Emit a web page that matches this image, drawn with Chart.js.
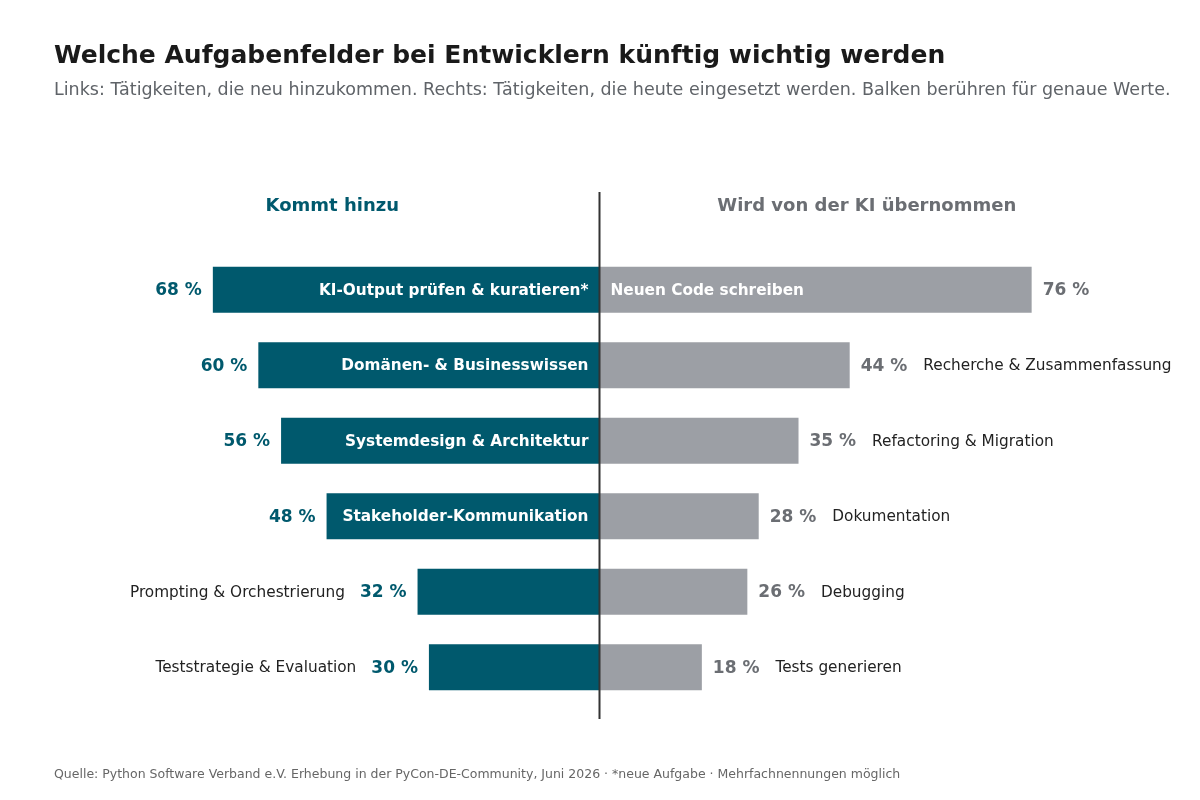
<!DOCTYPE html>
<html lang="de">
<head>
<meta charset="utf-8">
<title>Aufgabenfelder Entwickler</title>
<script src="https://cdn.jsdelivr.net/npm/chart.js@4.4.1/dist/chart.umd.min.js"></script>
<style>
    html, body { margin: 0; padding: 0; background: #ffffff; }
    #wrap { width: 1200px; height: 800px; position: relative; }
</style>
</head>
<body>
<div id="wrap"><canvas id="divergingChart"></canvas></div>
<script>
const leftLabels = ['KI-Output prüfen & kuratieren*', 'Domänen- & Businesswissen', 'Systemdesign & Architektur',
    'Stakeholder-Kommunikation', 'Prompting & Orchestrierung', 'Teststrategie & Evaluation'];
const leftValues = [68, 60, 56, 48, 32, 30];

const rightLabels = ['Neuen Code schreiben', 'Recherche & Zusammenfassung', 'Refactoring & Migration',
    'Dokumentation', 'Debugging', 'Tests generieren'];
const rightValues = [76, 44, 35, 28, 26, 18];

const leftHeader = 'Kommt hinzu';
const rightHeader = 'Wird von der KI übernommen';

const titleText = 'Welche Aufgabenfelder bei Entwicklern künftig wichtig werden';
const subtitleText = 'Links: Tätigkeiten, die neu hinzukommen. Rechts: Tätigkeiten, die heute eingesetzt werden. Balken berühren für genaue Werte.';
const footerText = 'Quelle: Python Software Verband e.V. Erhebung in der PyCon-DE-Community, Juni 2026 · *neue Aufgabe · Mehrfachnennungen möglich';

const TEAL = '#00596d';
const GREY_BAR = '#9c9fa5';
const GREY_TEXT = '#6b6e73';
const FONT = '"DejaVu Sans", Verdana, sans-serif';
const INSIDE_MIN = 45;   // bars with at least this share get their name inside


// draws the headers, center line, bar labels and the texts around the chart
const decorPlugin = {
    id: 'decor',
    afterDatasetsDraw(chart) {
        const ctx = chart.ctx;
        const area = chart.chartArea;
        const xScale = chart.scales.x;
        const zeroX = xScale.getPixelForValue(0);

        ctx.save();
        ctx.textBaseline = 'middle';

        chart.data.datasets.forEach((ds, di) => {
            const meta = chart.getDatasetMeta(di);
            const isLeft = di === 0;
            const names = isLeft ? leftLabels : rightLabels;
            const values = isLeft ? leftValues : rightValues;

            meta.data.forEach((bar, i) => {
                const valueText = values[i] + ' %';
                const inside = values[i] >= INSIDE_MIN;
                const y = bar.y + 1;

                ctx.font = 'bold 17px ' + FONT;
                const valueWidth = ctx.measureText(valueText).width;

                if (isLeft) {
                    ctx.fillStyle = TEAL;
                    ctx.textAlign = 'right';
                    ctx.fillText(valueText, bar.x - 11, y);
                    if (inside) {
                        ctx.font = 'bold 15.3px ' + FONT;
                        ctx.fillStyle = '#ffffff';
                        ctx.fillText(names[i], bar.base - 11, y);
                    } else {
                        ctx.font = '15.3px ' + FONT;
                        ctx.fillStyle = '#222222';
                        ctx.fillText(names[i], bar.x - 11 - valueWidth - 15, y);
                    }
                } else {
                    ctx.fillStyle = GREY_TEXT;
                    ctx.textAlign = 'left';
                    ctx.fillText(valueText, bar.x + 11, y);
                    if (inside) {
                        ctx.font = 'bold 15.3px ' + FONT;
                        ctx.fillStyle = '#ffffff';
                        ctx.fillText(names[i], bar.base + 11, y);
                    } else {
                        ctx.font = '15.3px ' + FONT;
                        ctx.fillStyle = '#222222';
                        ctx.fillText(names[i], bar.x + 11 + valueWidth + 16, y);
                    }
                }
            });
        });

        // center line
        ctx.strokeStyle = '#333333';
        ctx.lineWidth = 2;
        ctx.beginPath();
        ctx.moveTo(zeroX, area.top - 60);
        ctx.lineTo(zeroX, area.bottom + 14);
        ctx.stroke();

        // column headers
        ctx.font = 'bold 18px ' + FONT;
        ctx.textAlign = 'center';
        ctx.fillStyle = TEAL;
        ctx.fillText(leftHeader, (area.left + zeroX) / 2, area.top - 46);
        ctx.fillStyle = GREY_TEXT;
        ctx.fillText(rightHeader, (area.right + zeroX) / 2, area.top - 46);

        // title, subtitle, source
        ctx.textAlign = 'left';
        ctx.textBaseline = 'alphabetic';
        ctx.fillStyle = '#1a1a1a';
        ctx.font = 'bold 25px ' + FONT;
        ctx.fillText(titleText, 54, 63);
        ctx.fillStyle = '#5f6368';
        ctx.font = '17.5px ' + FONT;
        ctx.fillText(subtitleText, 54, 95);
        ctx.fillStyle = '#666666';
        ctx.font = '12.5px ' + FONT;
        ctx.fillText(footerText, 54, 778);

        ctx.restore();
    }
};


function createDivergingChart() {
    const ctx = document.getElementById('divergingChart').getContext('2d');

    const chartConfig = {
        type: 'bar',
        data: {
            labels: leftLabels,
            datasets: [
                {
                    label: leftHeader,
                    data: leftValues.map(v => -v),
                    backgroundColor: TEAL
                },
                {
                    label: rightHeader,
                    data: rightValues,
                    backgroundColor: GREY_BAR
                }
            ]
        },
        options: {
            indexAxis: 'y',
            responsive: true,
            maintainAspectRatio: false,
            animation: false,
            layout: {
                padding: { left: 65, right: 66, top: 252, bottom: 95 }
            },
            datasets: {
                bar: { barPercentage: 0.61, categoryPercentage: 1, borderWidth: 0 }
            },
            scales: {
                x: { stacked: true, min: -94, max: 94, display: false },
                y: { stacked: true, display: false }
            },
            plugins: {
                legend: { display: false },
                title: { display: false },
                tooltip: {
                    callbacks: {
                        title: items => items[0].datasetIndex === 0
                            ? leftLabels[items[0].dataIndex]
                            : rightLabels[items[0].dataIndex],
                        label: item => item.dataset.label + ': ' + Math.abs(item.raw) + ' %'
                    }
                }
            }
        },
        plugins: [decorPlugin]
    };

    new Chart(ctx, chartConfig);
}

createDivergingChart();
</script>
</body>
</html>
